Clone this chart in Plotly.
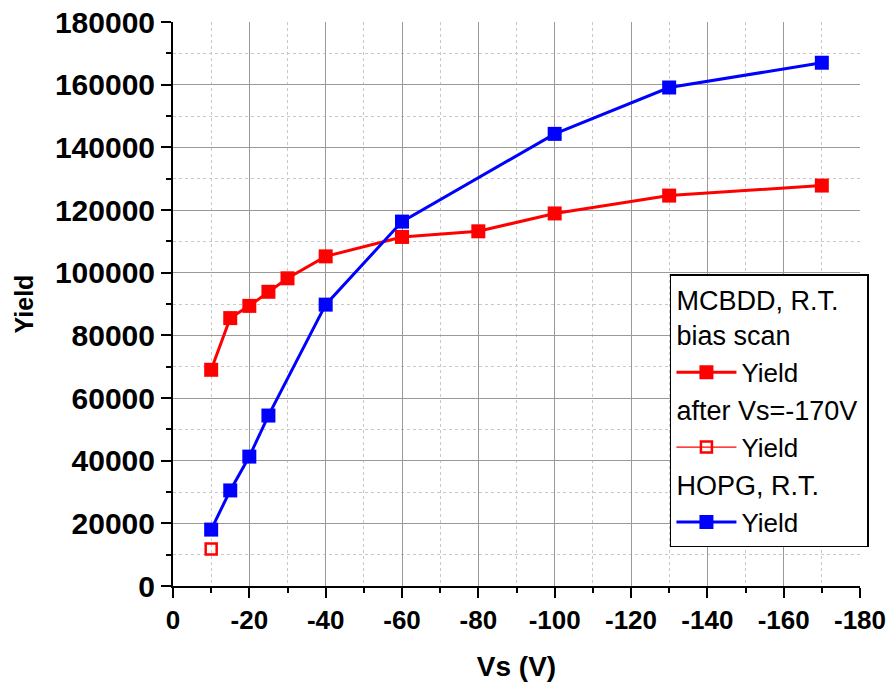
import plotly.graph_objects as go

# Substrate bias (V) and measured yield
vs_mcbdd = [-10, -15, -20, -25, -30, -40, -60, -80, -100, -130, -170]
yield_mcbdd = [69000, 85500, 89400, 93900, 98200, 105200, 111400, 113200, 118900, 124600, 127800]

vs_after = [-10]
yield_after = [11800]

vs_hopg = [-10, -15, -20, -25, -40, -60, -100, -130, -170]
yield_hopg = [18000, 30500, 41300, 54400, 89800, 116300, 144300, 159100, 167000]

x_tickvals = [0, -20, -40, -60, -80, -100, -120, -140, -160, -180]
x_ticktext = ["0", "-20", "-40", "-60", "-80", "-100", "-120", "-140", "-160", "-180"]

FONT = "Arial, Liberation Sans, sans-serif"

fig = go.Figure()
fig.add_trace(go.Scatter(
    x=vs_mcbdd, y=yield_mcbdd, mode="lines+markers", name="Yield",
    line=dict(color="#ff0000", width=3),
    marker=dict(symbol="square", size=14, color="#ff0000"),
    legendgroup="a", legendgrouptitle=dict(text="MCBDD, R.T.<br>bias scan"),
))
fig.add_trace(go.Scatter(
    x=vs_after, y=yield_after, mode="lines+markers", name="Yield",
    line=dict(color="#ff0000", width=1.3),
    marker=dict(symbol="square-open", size=11, color="#ff0000", line=dict(width=2.5, color="#ff0000")),
    legendgroup="b", legendgrouptitle=dict(text="after Vs=-170V"),
))
fig.add_trace(go.Scatter(
    x=vs_hopg, y=yield_hopg, mode="lines+markers", name="Yield",
    line=dict(color="#0000ff", width=3),
    marker=dict(symbol="square", size=14, color="#0000ff"),
    legendgroup="c", legendgrouptitle=dict(text="HOPG, R.T."),
))

fig.update_layout(
    width=894, height=686,
    margin=dict(l=173, r=34, t=22, b=100),
    paper_bgcolor="white", plot_bgcolor="white",
    font=dict(family=FONT, color="black"),
    legend=dict(
        x=1.013, xanchor="right", y=0.069, yanchor="bottom",
        bgcolor="white", bordercolor="black", borderwidth=1.5,
        font=dict(size=26, family=FONT, color="black"),
        grouptitlefont=dict(size=27, family=FONT, color="black"),
        traceorder="grouped", tracegroupgap=0, itemwidth=60,
    ),
)

fig.update_xaxes(
    range=[0, -180], tickvals=x_tickvals, ticktext=x_ticktext,
    automargin=False,
    showline=True, linecolor="black", linewidth=2,
    ticks="outside", ticklen=10, tickwidth=2, tickcolor="black",
    tickfont=dict(size=26, family=FONT, weight="bold"),
    showgrid=True, gridcolor="#999999", gridwidth=1,
    minor=dict(dtick=10, ticks="outside", ticklen=5, tickwidth=2, tickcolor="black",
               showgrid=True, gridcolor="#c8c8c8", griddash="dot", gridwidth=1),
    zeroline=False,
    title=dict(text="Vs (V)", font=dict(size=28, family=FONT, weight="bold"), standoff=22),
)
fig.update_yaxes(
    range=[0, 180000], dtick=20000, tickformat="d",
    automargin=False,
    showline=True, linecolor="black", linewidth=2,
    ticks="outside", ticklen=10, tickwidth=2, tickcolor="black",
    tickfont=dict(size=30, family=FONT, weight="bold"),
    showgrid=True, gridcolor="#999999", gridwidth=1,
    minor=dict(dtick=10000, ticks="outside", ticklen=5, tickwidth=2, tickcolor="black",
               showgrid=True, gridcolor="#c8c8c8", griddash="dot", gridwidth=1),
    zeroline=False,
    title=dict(text="Yield", font=dict(size=25, family=FONT, weight="bold"), standoff=14),
)

fig.write_html("out.html")
